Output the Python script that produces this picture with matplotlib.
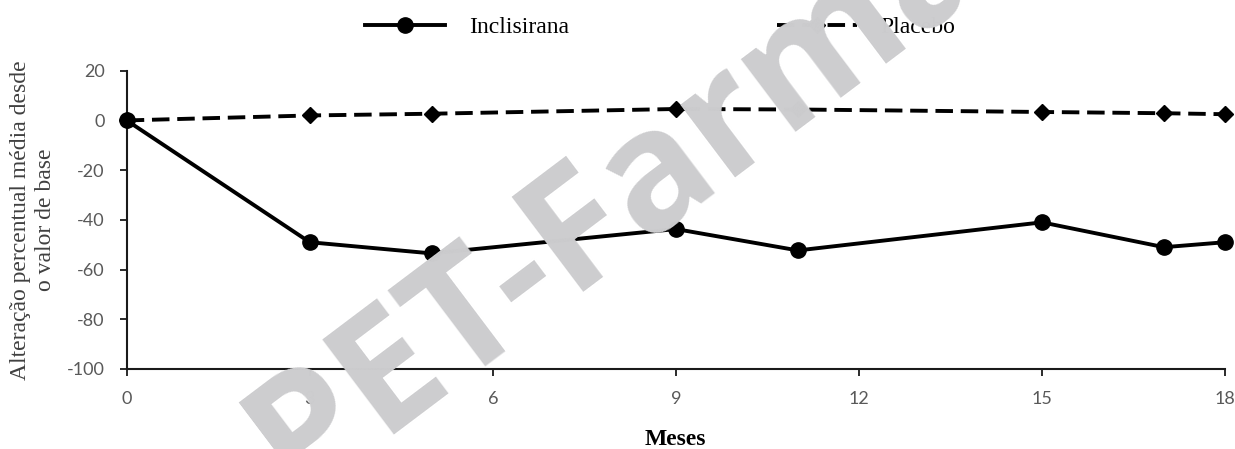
import numpy as np
import matplotlib.pyplot as plt
from matplotlib.lines import Line2D

plt.rcParams['axes.unicode_minus'] = False

# dados
meses = [0, 3, 5, 9, 11, 15, 17, 18]
inclisirana = [0, -49, -53.5, -43.7, -52.3, -41, -51, -49]
placebo = [0, 2, 2.7, 4.6, 4.4, 3.4, 2.9, 2.5]

xticks = [0, 3, 6, 9, 12, 15, 18]
yticks = [-100, -80, -60, -40, -20, 0, 20]

fig = plt.figure(figsize=(12.35, 4.49), dpi=100)
ax = fig.add_axes([0.1026, 0.1782, 0.8893, 0.6643])

ax.plot(meses, placebo, color='black', linewidth=2.8, dashes=(4.5, 2),
        marker='D', markersize=8, clip_on=False, zorder=3)
ax.plot(meses, inclisirana, color='black', linewidth=2.8,
        marker='o', markersize=11, clip_on=False, zorder=4)

ax.set_xlim(0, 18)
ax.set_ylim(-100, 20)
ax.set_xticks(xticks)
ax.set_yticks(yticks)

for s in ['top', 'right']:
    ax.spines[s].set_visible(False)
for s in ['left', 'bottom']:
    ax.spines[s].set_linewidth(1.5)
    ax.spines[s].set_color('#1a1a1a')

ax.tick_params(direction='out', length=5, width=1.3, color='#1a1a1a',
               labelsize=13, labelcolor='#595959', pad=11)
for lab in ax.get_xticklabels() + ax.get_yticklabels():
    lab.set_family('Lato')

ax.set_ylabel('Alteração percentual média desde\no valor de base',
              family='Liberation Serif', fontsize=17, color='#404040',
              linespacing=1.2, labelpad=8)
ax.set_xlabel('Meses', family='Liberation Serif', fontsize=17,
              fontweight='bold', labelpad=16)

handles = [
    Line2D([], [], color='black', linewidth=2.8, marker='o', markersize=11),
    Line2D([], [], color='black', linewidth=2.8, dashes=(4.5, 2),
           marker='D', markersize=8),
]
fig.legend(handles, ['Inclisirana', 'Placebo'], ncol=2, frameon=False,
           loc='center left', bbox_to_anchor=(365 / 1235, 1 - 27 / 449),
           prop={'family': 'Liberation Serif', 'size': 17},
           handlelength=3.4, handletextpad=1.0, columnspacing=8.8,
           borderpad=0, borderaxespad=0)

# marca d'água
fig.text(645 / 1235, 1 - 234 / 449, 'PET-Farma', rotation=37,
         rotation_mode='anchor', ha='center', va='baseline',
         family='Open Sans', fontweight='bold', fontsize=120,
         color='#cdcdcf', zorder=10)

fig.savefig('out.png', dpi=100)
